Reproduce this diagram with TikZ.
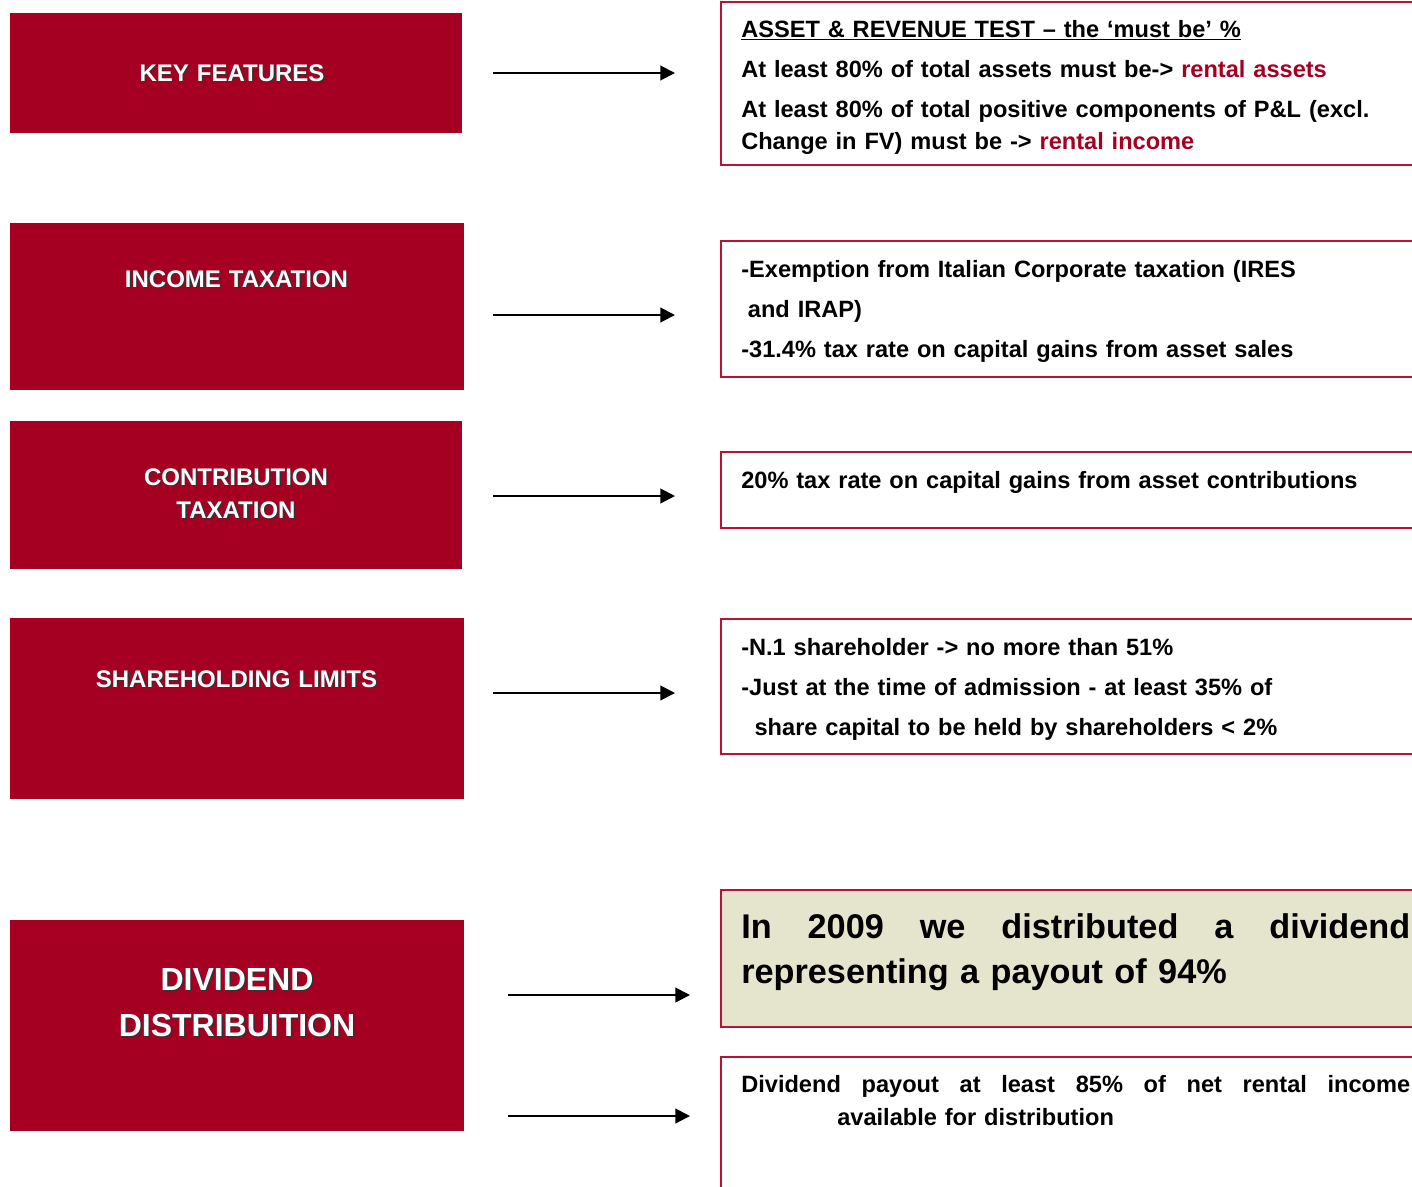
\documentclass[tikz,border=0pt]{standalone}
\usepackage{fontspec}
\setmainfont{Liberation Sans}
\usetikzlibrary{positioning,arrows.meta}

\definecolor{boxred}{RGB}{165,0,33}
\definecolor{linered}{RGB}{185,18,52}
\definecolor{paybeige}{RGB}{229,228,204}
\newcommand{\shd}[1]{\makebox[0pt][l]{\hspace{1.2pt}\raisebox{-1.2pt}{\textcolor{black!80}{#1}}}#1}

\begin{document}
\begin{tikzpicture}[
        x=0.75pt, y=-0.75pt,
        fbox/.style={fill=boxred, anchor=north west, inner sep=0pt, minimum width=339pt},
        tbox/.style={draw=linered, line width=1.5pt, anchor=north west, inner sep=0pt, minimum width=570pt},
        ftag/.style={anchor=base, text width=330pt, align=center, inner sep=0pt, text=white, font=\bfseries\fontsize{18}{24.75}\selectfont},
        ttag/.style={anchor=base west, text width=502pt, align=left, inner sep=0pt, font=\bfseries\fontsize{17.7}{30}\selectfont},
        arrow/.style={-{Triangle[length=11pt, width=11pt]}, line width=1.5pt}
      ]

      \path[use as bounding box, clip] (0, 0) rectangle (1412, 1186);

      % left column
      \node (KF) at(10, 13) [fbox, minimum height=90pt] {};
      \node (IT) at(10, 223) [fbox, minimum width=340.5pt, minimum height=125.25pt] {};
      \node (CT) at(10, 421) [fbox, minimum height=111pt] {};
      \node (SL) at(10, 618) [fbox, minimum width=340.5pt, minimum height=135.75pt] {};
      \node (DD) at(10, 920) [fbox, minimum width=340.5pt, minimum height=158.25pt] {};

      \node (KFt) at(232, 81) [ftag] {\shd{KEY FEATURES}};
      \node (ITt) at(236.5, 287) [ftag] {\shd{INCOME TAXATION}};
      \node (CTt) at(236, 485) [ftag] {\shd{CONTRIBUTION}\\\shd{TAXATION}};
      \node (SLt) at(236.5, 687) [ftag] {\shd{SHAREHOLDING LIMITS}};
      \node (DDt) at(237, 990) [ftag, font=\bfseries\fontsize{24}{34.5}\selectfont] {\shd{DIVIDEND}\\\shd{DISTRIBUITION}};

      % right column
      \node (AR) at(720, 1) [tbox, minimum height=122.25pt] {};
      \node (TX) at(720, 240) [tbox, minimum height=102pt] {};
      \node (CG) at(720, 451) [tbox, minimum height=57pt] {};
      \node (SH) at(720, 618) [tbox, minimum height=101.25pt] {};
      \node (PO) at(720, 889) [tbox, fill=paybeige, minimum height=102.75pt] {};
      \node (DP) at(720, 1056) [tbox, minimum height=150pt] {};

      \node (ARt) at(741, 37) [ttag, font=\bfseries\fontsize{17.7}{24}\selectfont] {\underline{ASSET \& REVENUE TEST – the ‘must be’ \%}\\[6pt]
        At least 80\% of total assets must be-> \textcolor{boxred}{rental assets}\\[6pt]
        At least 80\% of total positive components of P\&L (excl.\\
        Change in FV) must be -> \textcolor{boxred}{rental income}};
      \node (TXt) at(741, 277) [ttag] {-Exemption from Italian Corporate taxation (IRES\\
        \hspace*{5pt}and IRAP)\\
        -31.4\% tax rate on capital gains from asset sales};
      \node (CGt) at(741, 488) [ttag] {20\% tax rate on capital gains from asset contributions};
      \node (SHt) at(741, 655) [ttag] {-N.1 shareholder -> no more than 51\%\\
        -Just at the time of admission - at least 35\% of\\
        \hspace*{10pt}share capital to be held by shareholders < 2\%};
      \node (POt) at(741, 938) [ttag, font=\bfseries\fontsize{25.7}{33.75}\selectfont] {\hbox to 501.75pt{In\hfill 2009\hfill we\hfill distributed\hfill a\hfill dividend}\\
        representing a payout of 94\%};
      \node (DPt) at(741, 1092) [ttag, font=\bfseries\fontsize{17.7}{24.75}\selectfont] {\hbox to 501.75pt{Dividend\hfill payout\hfill at\hfill least\hfill 85\%\hfill of\hfill net\hfill rental\hfill income}\\
        \hspace*{72pt}available for distribution};

      % arrows
      \foreach \i/\xa/\xb/\y in {1/493/675/73, 2/493/675/315, 3/493/675/496, 4/493/675/693, 5/508/690/995, 6/508/690/1116} {
        \coordinate (s\i) at(\xa, \y);
        \coordinate (e\i) at(\xb, \y);
      }
      \path[arrow]
        (s1) edge (e1)
        (s2) edge (e2)
        (s3) edge (e3)
        (s4) edge (e4)
        (s5) edge (e5)
        (s6) edge (e6);
    \end{tikzpicture}
\end{document}
